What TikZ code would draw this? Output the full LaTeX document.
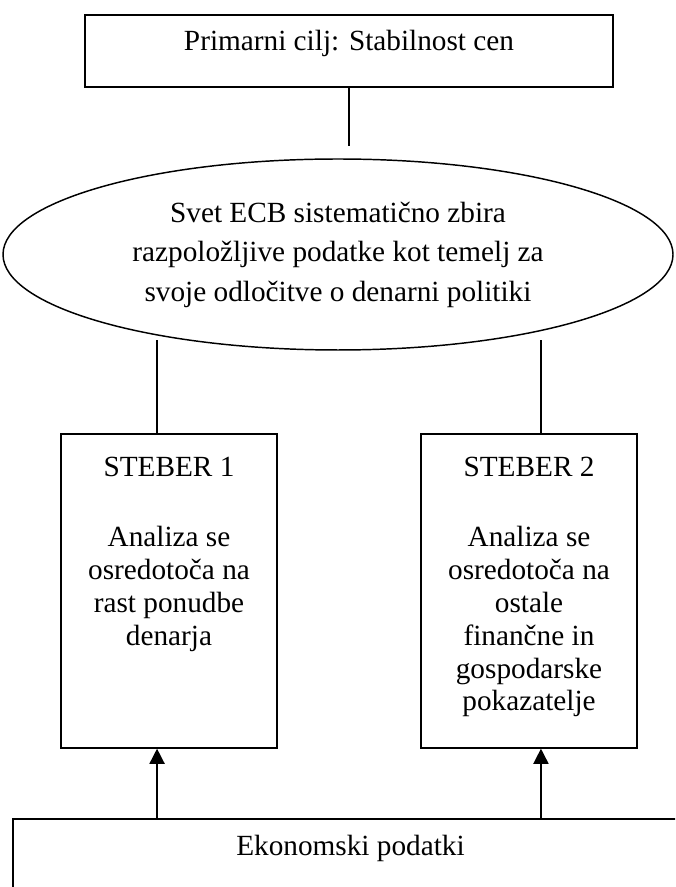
\documentclass[tikz,border=0pt]{standalone}
\usepackage{fontspec}
\setmainfont{Liberation Serif}
\usetikzlibrary{arrows.meta,shapes.geometric,positioning}
\tikzset{>=Latex}

\begin{document}
\begin{tikzpicture}[x=0.41pt, y=-0.41pt,
                every node/.append style={align=center, font=\fontsize{12}{13.5}\selectfont},
                box/.style={draw, line width=0.8pt, inner sep=0pt, text height=8pt, text depth=8pt, minimum height=29.5pt},
                pillar/.style={draw, line width=0.6pt, inner sep=0pt, minimum width=88.6pt, minimum height=128.7pt},
                council/.style={draw, ellipse, line width=0.6pt, inner sep=0pt, minimum width=274.7pt, minimum height=78.3pt, font=\fontsize{12}{16.2}\selectfont},
                link/.style={line width=0.6pt},
                feed/.style={line width=0.6pt, -{Triangle[length=6.2pt,width=6.2pt]}}]

               \useasboundingbox (0,0) rectangle (675,887);
               \clip (0,0) rectangle (675,887);

               \node [box, minimum width=216.5pt] (goal) at (349,51) {Primarni cilj: Stabilnost cen};
               \node [council] (svet) at (338,254.5) {Svet ECB sistematično zbira\\razpoložljive podatke kot temelj za\\svoje odločitve o denarni politiki};

               \node [pillar] (s1) at (169,591) {};
               \node [pillar] (s2) at (529,591) {};
               \node [below=9.4pt of s1.north, inner sep=0pt] (s1text) {STEBER 1\\[15.3pt]Analiza se\\osredotoča na\\rast ponudbe\\denarja};
               \node [below=9.4pt of s2.north, inner sep=0pt] (s2text) {STEBER 2\\[15.3pt]Analiza se\\osredotoča na\\ostale\\finančne in\\gospodarske\\pokazatelje};

               \node [box, minimum width=276.8pt] (econ) at (350.5,855) {Ekonomski podatki};

               \draw[link, shorten >=4.9pt] (goal.south) -- (goal.south |- svet.north);
               \draw[link, shorten >=-4.5pt] ([xshift=-4.9pt]s1.north) -- ([xshift=-4.9pt]s1.north |- svet.south);
               \draw[link, shorten >=-4.5pt] ([xshift=4.9pt]s2.north) -- ([xshift=4.9pt]s2.north |- svet.south);
               \draw[feed] ([xshift=-4.9pt]s1.south |- econ.north) -- ([xshift=-4.9pt]s1.south);
               \draw[feed] ([xshift=4.9pt]s2.south |- econ.north) -- ([xshift=4.9pt]s2.south);
\end{tikzpicture}
\end{document}
